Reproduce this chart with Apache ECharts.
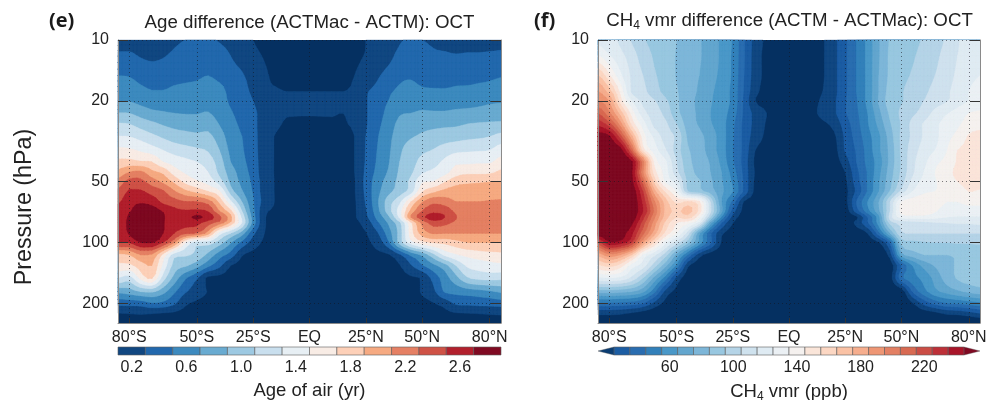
<!DOCTYPE html>
<html><head><meta charset="utf-8">
<style>html,body{margin:0;padding:0;background:#fff}#c{width:986px;height:400px}</style>
<script src="https://cdn.jsdelivr.net/npm/echarts@6/dist/echarts.min.js"></script>
</head><body><div id="c"></div>
<script>
const latitudes=[-85,-80,-75,-70,-65,-60,-55,-50,-45,-40,-35,-30,-25,-20,-15,-10,0,10,15,20,25,30,35,40,45,50,55,60,65,70,75,80,85];
const pressures=[10,12,15,18,20,23,26,30,35,40,45,50,56,63,70,75,80,90,100,115,130,150,175,200,225,250];
const latTicks=[-80,-50,-25,0,25,50,80];
const pressureTicks=[10,20,50,100,200];
const ageValues=[
[.25,.25,.25,.25,.26,.28,.3,.31,.33,.28,.22,.16,.1,.07,.05,.04,.03,.03,.04,.06,.1,.15,.2,.28,.33,.3,.28,.27,.26,.25,.25,.25,.25],
[.33,.33,.29,.27,.29,.33,.38,.42,.46,.42,.3,.22,.14,.09,.06,.05,.04,.04,.05,.07,.11,.17,.24,.36,.42,.38,.33,.32,.31,.32,.32,.33,.34],
[.5,.49,.43,.4,.4,.43,.45,.47,.5,.45,.38,.32,.22,.12,.08,.05,.04,.05,.07,.1,.18,.27,.37,.46,.48,.44,.43,.42,.44,.45,.46,.47,.49],
[.62,.61,.55,.51,.51,.54,.56,.57,.6,.57,.44,.36,.26,.11,.11,.1,.1,.1,.1,.13,.28,.35,.47,.53,.56,.53,.52,.52,.53,.53,.54,.55,.57],
[.69,.69,.64,.6,.6,.6,.62,.62,.64,.58,.47,.4,.3,.17,.14,.13,.14,.14,.14,.18,.28,.42,.5,.58,.63,.65,.62,.62,.62,.63,.65,.67,.68],
[.91,.9,.82,.75,.72,.7,.69,.69,.71,.62,.52,.43,.35,.2,.14,.11,.11,.11,.1,.15,.28,.42,.55,.68,.7,.72,.72,.72,.74,.75,.76,.78,.8],
[1.12,1.1,1.02,.95,.88,.84,.82,.8,.83,.69,.56,.46,.35,.2,.13,.08,.07,.08,.09,.13,.28,.44,.6,.75,.81,.84,.85,.86,.87,.9,.92,.93,.94],
[1.31,1.3,1.23,1.15,1.07,1,.97,.95,.95,.8,.6,.5,.37,.18,.09,.05,.04,.05,.07,.1,.3,.48,.64,.8,.88,.93,.97,1,1.02,1.05,1.07,1.1,1.17],
[1.55,1.53,1.47,1.39,1.3,1.22,1.17,1.13,1.08,.9,.65,.52,.38,.18,.09,.05,.03,.04,.05,.1,.31,.5,.66,.86,1,1.06,1.11,1.19,1.25,1.27,1.28,1.3,1.4],
[1.75,1.76,1.72,1.7,1.5,1.41,1.35,1.3,1.2,1,.7,.55,.4,.18,.09,.05,.03,.03,.05,.1,.32,.52,.68,.9,1.02,1.16,1.23,1.34,1.45,1.45,1.47,1.47,1.58],
[1.95,2.1,2.15,1.95,1.85,1.6,1.47,1.41,1.3,1.05,.8,.6,.42,.18,.09,.05,.03,.03,.05,.1,.34,.55,.72,.93,1.06,1.27,1.34,1.42,1.6,1.65,1.65,1.66,1.74],
[2.17,2.37,2.35,2.2,2.05,1.85,1.63,1.52,1.42,1.2,.85,.65,.45,.2,.09,.05,.03,.03,.05,.09,.36,.6,.78,.96,1.15,1.47,1.5,1.68,1.82,1.86,1.87,1.89,1.9],
[2.34,2.53,2.53,2.42,2.33,2.12,1.95,1.83,1.7,1.53,1,.72,.48,.2,.09,.05,.03,.03,.05,.09,.35,.63,.84,1,1.2,1.68,1.85,1.96,2,2,2.02,2.03,2.02],
[2.47,2.63,2.68,2.62,2.45,2.38,2.31,2.3,2.2,1.85,1.35,.9,.52,.22,.09,.05,.03,.03,.05,.08,.32,.66,1,1.25,1.7,2.08,2.25,2.2,2.1,2.1,2.1,2.11,2.12],
[2.55,2.68,2.78,2.8,2.68,2.55,2.52,2.53,2.48,2.1,1.75,1.1,.55,.15,.08,.05,.03,.03,.05,.08,.28,.62,1,1.4,1.95,2.3,2.42,2.42,2.25,2.18,2.17,2.17,2.18],
[2.55,2.73,2.85,2.85,2.72,2.6,2.63,2.74,2.62,2.35,1.95,1.25,.6,.12,.07,.05,.03,.03,.04,.08,.25,.55,.85,1.35,2.1,2.42,2.62,2.5,2.31,2.2,2.18,2.18,2.18],
[2.55,2.75,2.87,2.9,2.72,2.55,2.55,2.55,2.38,2.2,1.85,1.3,.62,.12,.07,.05,.03,.03,.04,.06,.17,.45,.72,1.05,1.65,2.15,2.38,2.35,2.25,2.15,2.14,2.14,2.14],
[2.55,2.72,2.85,2.85,2.7,2.5,2.35,2.28,2,1.4,1.1,.8,.35,.1,.06,.04,.03,.03,.04,.06,.09,.27,.6,.98,1.6,1.98,2.12,2.1,2.1,2.1,2.1,2.1,2.1],
[2.5,2.52,2.7,2.72,2.5,2.12,1.5,1.2,1.2,1,.72,.45,.2,.07,.05,.04,.03,.03,.04,.05,.07,.17,.46,.99,1.4,1.62,1.72,1.75,1.82,1.9,1.9,1.9,1.9],
[1.85,1.9,2.1,2.08,1.65,1.2,1.13,1.05,.85,.6,.42,.12,.05,.04,.03,.03,.03,.03,.03,.04,.05,.06,.08,.27,.55,.75,1.05,1.35,1.48,1.55,1.6,1.63,1.65],
[1.65,1.65,1.8,1.9,1.45,1.02,.93,.78,.55,.35,.1,.05,.03,.03,.03,.03,.03,.03,.03,.03,.03,.04,.05,.09,.28,.48,.65,.82,1.1,1.33,1.38,1.42,1.45],
[1.3,1.2,1.55,1.72,1.2,.82,.52,.32,.05,.04,.03,.03,.03,.03,.03,.03,.03,.03,.03,.03,.03,.03,.04,.05,.07,.12,.37,.6,.83,1.07,1.15,1.17,1.15],
[.75,.8,.9,.93,.77,.53,.32,.2,.09,.04,.03,.03,.03,.03,.03,.03,.03,.03,.03,.03,.03,.03,.03,.03,.03,.12,.25,.52,.56,.6,.63,.67,.73],
[.37,.38,.4,.48,.45,.33,.13,.07,.04,.03,.03,.03,.03,.03,.03,.03,.03,.03,.03,.03,.03,.03,.03,.03,.03,.05,.09,.17,.33,.35,.37,.38,.4],
[.09,.1,.11,.1,.08,.06,.04,.04,.03,.03,.03,.03,.03,.03,.03,.03,.03,.03,.03,.03,.03,.03,.03,.03,.03,.03,.04,.06,.08,.09,.1,.11,.12],
[.04,.04,.04,.04,.04,.03,.03,.03,.03,.03,.03,.03,.03,.03,.03,.03,.03,.03,.03,.03,.03,.03,.03,.03,.03,.03,.03,.03,.03,.04,.04,.04,.04]
];
const ch4Values=[
[122,118,113,104,96,93,90,85,80,76,70,63,54,36,21,13,8,10,14,22,33,45,58,74,86,90,93,96,102,106,114,118,120],
[136,126,118,110,100,94,91,84,78,76,70,63,53,36,20,12,7,9,14,22,33,45,58,74,87,91,94,98,103,108,115,119,122],
[166,147,127,113,105,96,92,84,78,75,69,62,53,35,20,12,6,9,14,22,33,45,58,75,87,92,96,100,105,110,117,122,125],
[186,170,142,113,108,99,92,86,78,74,67,60,52,34,18,11,6,10,15,22,33,45,58,75,89,94,99,103,108,113,119,125,128],
[195,185,150,125,112,106,97,87,78,73,66,60,52,33,15,11,7,11,17,23,34,44,58,76,90,94,100,105,110,114,120,125,128],
[215,197,171,141,119,110,102,88,79,73,65,59,50,33,22,15,9,12,18,23,34,43,55,72,87,97,103,109,118,124,129,135,137],
[232,219,190,152,130,112,107,95,80,74,66,59,47,32,22,14,8,10,13,18,30,41,54,68,84,96,108,116,123,128,133,139,142],
[250,247,220,178,140,123,110,103,83,78,70,60,46,32,20,13,8,9,10,13,27,39,51,63,80,97,107,116,122,131,138,146,148],
[252,252,250,210,150,130,116,100,86,80,70,60,45,32,15,12,7,8,9,11,26,36,49,63,78,97,110,119,125,134,145,147,150],
[253,254,254,247,200,142,127,105,88,81,74,62,46,31,13,10,7,7,8,10,20,35,48,60,78,96,112,122,132,138,146,150,152],
[253,254,254,246,195,150,130,108,90,82,75,65,50,32,14,10,6,7,8,9,15,32,46,62,80,97,113,125,135,142,147,152,152],
[253,254,254,248,210,162,133,120,92,86,77,66,53,33,13,10,6,6,7,8,13,30,46,64,82,100,118,128,134,140,145,148,148],
[253,254,254,252,225,180,153,133,95,88,80,67,55,33,12,9,6,6,6,7,12,27,46,65,86,108,125,133,135,137,140,145,144],
[253,254,254,254,232,197,170,152,156,147,105,65,42,14,11,9,6,6,6,7,11,35,55,75,105,135,140,142,140,135,135,138,138],
[253,254,254,253,235,203,172,163,168,152,108,68,30,12,10,8,6,6,6,7,9,30,51,73,105,139,142,143,136,130,130,130,130],
[253,254,254,252,228,197,170,155,160,137,95,53,21,11,9,8,6,6,6,6,8,13,35,62,110,128,130,130,128,125,124,124,124],
[253,254,254,247,220,190,162,145,137,120,70,35,15,10,9,7,6,6,6,6,7,18,34,60,98,108,110,112,114,115,116,116,117],
[252,253,250,237,208,180,152,135,110,68,37,17,10,8,7,6,5,5,5,6,6,8,15,42,75,104,105,105,105,105,105,105,105],
[220,244,240,225,185,155,128,110,88,62,38,14,9,7,6,6,5,5,5,5,6,7,9,14,38,88,92,94,95,95,96,96,97],
[178,192,185,165,133,118,100,72,45,20,10,8,7,6,6,6,5,5,5,5,5,6,6,7,20,70,80,85,85,85,86,87,87],
[153,158,150,130,120,100,78,53,17,10,7,6,6,6,5,5,5,5,5,5,5,5,5,6,9,35,55,68,76,82,86,88,89],
[123,124,122,112,95,72,50,22,9,7,6,5,5,5,5,5,5,5,5,5,5,5,5,5,10,42,51,58,68,79,86,89,90],
[80,80,78,75,67,48,22,12,8,6,5,5,5,5,5,5,5,5,5,5,5,5,5,5,5,8,36,51,62,68,73,77,80],
[43,43,42,40,35,22,12,8,6,5,5,5,5,5,5,5,5,5,5,5,5,5,5,5,5,5,14,28,38,44,46,49,52],
[17,17,16,13,10,8,6,5,5,5,5,5,5,5,5,5,5,5,5,5,5,5,5,5,5,5,7,9,11,16,17,20,24],
[6,6,6,6,6,5,5,5,5,5,5,5,5,5,5,5,5,5,5,5,5,5,5,5,5,5,5,5,5,5,6,6,6]
];
const ageBarCentres=[0.2,0.4,0.6,0.8,1.0,1.2,1.4,1.6,1.8,2.0,2.2,2.4,2.6,2.8];
const ageBarTicks=[0.2,0.6,1.0,1.4,1.8,2.2,2.6];
const ch4BarCentres=[30,40,50,60,70,80,90,100,110,120,130,140,150,160,170,180,190,200,210,220,230,240];
const ch4BarTicks=[60,100,140,180,220];
const UNDER='#053061';
const ageColors=['#114781','#2268ad','#3d8abf','#69abd1','#9dc9e2','#c9dfee','#e7eff4','#f8ece5','#fdd0b8','#f6aa82','#e58064','#cf5246','#b2202d','#7f0a22'];
const ch4Colors=['#1c5da3','#2a6db0','#3280ba','#4a98c8','#63a6ce','#7db6d8','#98c7e0','#b5d4e7','#cfe2ee','#dfebf3','#ebf0f4','#f5f1ef','#fae5d9','#fcd7c3','#fac2a5','#f6ae8e','#ee9674','#e38064','#d86a52','#cb4d45','#bd3038','#a81529'];
const FONT='"Liberation Sans",Arial,sans-serif';
const TXT='#222';
const log10=p=>Math.log10(p);
function flat(m){const o=[];m.forEach((r,j)=>r.forEach((v,i)=>o.push([latitudes[i],log10(pressures[j]),v])));return o;}
function clip(tri,T){const out=[];for(let i=0;i<3;i++){const a=tri[i],b=tri[(i+1)%3];const ai=a[2]>=T,bi=b[2]>=T;if(ai)out.push(a);if(ai!==bi){const t=(T-a[2])/(b[2]-a[2]);out.push([a[0]+t*(b[0]-a[0]),a[1]+t*(b[1]-a[1]),T]);}}return out;}
// Contour drawing step: refines the read grid with a clamped Catmull-Rom so bands come out smooth, as a contouring package does.
function cr(p0,p1,p2,p3,t){const v=0.5*((2*p1)+(-p0+p2)*t+(2*p0-5*p1+4*p2-p3)*t*t+(-p0+3*p1-3*p2+p3)*t*t*t);return Math.min(Math.max(p1,p2),Math.max(Math.min(p1,p2),v));}
function refineLine(a,f,linear){const o=[];const n=a.length;for(let i=0;i<n-1;i++)for(let k=0;k<f;k++){const t=k/f;
  o.push(linear?a[i]+(a[i+1]-a[i])*t:cr(a[Math.max(i-1,0)],a[i],a[i+1],a[Math.min(i+2,n-1)],t));}o.push(a[n-1]);return o;}
function contourChildren(matrix,thresholds,colors,api,cs){
  const F=3;
  const xs=refineLine(latitudes.map(la=>api.coord([la,1])[0]),F,true);
  const ys=refineLine(pressures.map(p=>api.coord([0,log10(p)])[1]),F,true);
  const rows=matrix.map(r=>refineLine(r,F,false));
  const cols=[];for(let i=0;i<xs.length;i++)cols.push(refineLine(rows.map(r=>r[i]),F,false));
  const tris=[];
  const P=(i,j)=>[xs[i],ys[j],cols[i][j]];
  for(let j=0;j<ys.length-1;j++)for(let i=0;i<xs.length-1;i++){
    const a=P(i,j),b=P(i+1,j),c=P(i+1,j+1),d=P(i,j+1);
    const m=[(a[0]+c[0])/2,(a[1]+c[1])/2,(a[2]+b[2]+c[2]+d[2])/4];
    tris.push([a,b,m],[b,c,m],[c,d,m],[d,a,m]);
  }
  const kids=[{type:'rect',shape:{x:cs.x,y:cs.y,width:cs.width,height:cs.height},style:{fill:UNDER}}];
  thresholds.forEach((T,k)=>{
    const parts=[];let x0=1e9,y0=1e9,x1=-1e9,y1=-1e9;
    tris.forEach(t=>{if(t[0][2]<T&&t[1][2]<T&&t[2][2]<T)return;const poly=clip(t,T);if(poly.length<3)return;
      poly.forEach((q,n)=>{const x=+q[0].toFixed(2),y=+q[1].toFixed(2);parts.push((n?'L':'M')+x+' '+y);if(x<x0)x0=x;if(y<y0)y0=y;if(x>x1)x1=x;if(y>y1)y1=y;});parts.push('Z');});
    if(parts.length)kids.push({type:'path',shape:{pathData:parts.join(' '),layout:'cover',x:x0,y:y0,width:x1-x0,height:y1-y0},style:{fill:colors[k],stroke:colors[k],lineWidth:0.3}});
  });
  return kids;
}
function panelSeries(idx,name,matrix,thresholds,colors){
  return {type:'custom',name,xAxisIndex:idx,yAxisIndex:idx,coordinateSystem:'cartesian2d',silent:true,z:2,animation:false,
    data:flat(matrix),encode:{x:0,y:1},
    renderItem(params,api){ if(params.dataIndex!==0)return null;
      return {type:'group',children:contourChildren(matrix,thresholds,colors,api,params.coordSys)}; }};
}
function barSeries(idx,name,centres,half,colors,over){
  return {type:'custom',name,xAxisIndex:idx,yAxisIndex:idx,silent:true,animation:false,data:centres.map(c=>[c]),encode:{x:0},
    renderItem(params,api){const i=params.dataIndex,c=api.value(0),cs=params.coordSys;
      const a=api.coord([c-half,0]),b=api.coord([c+half,1]);
      const kids=[{type:'rect',shape:{x:a[0],y:b[1],width:b[0]-a[0],height:a[1]-b[1]},style:{fill:colors[i],stroke:'#5a5a5a',lineWidth:0.6}}];
      if(over&&i===0)kids.push({type:'polygon',shape:{points:[[a[0],b[1]],[a[0],a[1]],[cs.x,(a[1]+b[1])/2]]},style:{fill:'#0b3d72',stroke:'#5a5a5a',lineWidth:0.4}});
      if(over&&i===centres.length-1)kids.push({type:'polygon',shape:{points:[[b[0],b[1]],[b[0],a[1]],[cs.x+cs.width,(a[1]+b[1])/2]]},style:{fill:over,stroke:'#5a5a5a',lineWidth:0.4}});
      return {type:'group',children:kids};}};
}
const grids=[
 {left:118,top:40,width:383,height:283,outerBoundsMode:'none'},
 {left:598,top:40,width:382,height:283,outerBoundsMode:'none'},
 {left:118,top:347,width:383,height:8,outerBoundsMode:'none'},
 {left:598,top:347,width:382,height:8,outerBoundsMode:'none'}];
const latFmt=v=>v===0?'EQ':Math.abs(v)+'°'+(v<0?'S':'N');
const gridLine={show:true,lineStyle:{color:'rgba(20,20,30,0.55)',width:1,type:[1,3]}};
const mainX=i=>({type:'value',gridIndex:i,min:-85,max:85,z:5,
  axisLine:{show:true,onZero:false,lineStyle:{color:'#8a8a8a',width:1}},
  axisTick:{show:true,inside:true,length:5,lineStyle:{color:'#333'},customValues:latTicks},
  axisLabel:{show:true,customValues:latTicks,formatter:latFmt,margin:7,fontSize:16,fontFamily:FONT,color:TXT,hideOverlap:false},
  splitLine:gridLine});
const logTicks=pressureTicks.map(log10);
const mainY=(i,pos,lab)=>({type:'value',gridIndex:i,position:pos,inverse:true,min:1,max:log10(250),z:5,
  axisLine:{show:true,onZero:false,lineStyle:{color:'#8a8a8a',width:1}},
  axisTick:{show:true,inside:true,length:10,lineStyle:{color:'#333',width:1},customValues:logTicks},
  axisLabel:{show:lab,customValues:logTicks,formatter:v=>String(Math.round(Math.pow(10,v))),margin:9,fontSize:16,fontFamily:FONT,color:TXT},
  splitLine:lab?gridLine:{show:false}});
const barX=(i,min,max,ticks,fmt,name,rich)=>({type:'value',gridIndex:i,min,max,
  axisLine:{show:false},axisTick:{show:false},splitLine:{show:false},
  axisLabel:{show:true,customValues:ticks,formatter:fmt,margin:5,fontSize:16,fontFamily:FONT,color:TXT},
  name,nameLocation:'middle',nameGap:26,nameTextStyle:{fontSize:18.5,fontFamily:FONT,color:TXT,rich}});
const barY=i=>({type:'value',gridIndex:i,min:0,max:1,show:false});
const SUB={sub:{fontSize:12,fontFamily:FONT,color:TXT,padding:[10,0,0,0]}};
const option={animation:false,backgroundColor:'#fff',tooltip:{show:false},grid:grids,
 xAxis:[mainX(0),mainX(1),
   barX(2,0.1,2.9,ageBarTicks,v=>v.toFixed(1),'Age of air (yr)'),
   barX(3,15,255,ch4BarTicks,v=>String(v),'CH{sub|4} vmr (ppb)',SUB)],
 yAxis:[mainY(0,'left',true),mainY(1,'left',true),barY(2),barY(3),mainY(0,'right',false),mainY(1,'right',false)],
 title:[
  {text:'Age difference (ACTMac - ACTM): OCT',left:309.5,top:13,padding:0,textAlign:'center',textStyle:{fontSize:18.7,fontWeight:'normal',fontFamily:FONT,color:TXT}},
  {text:'CH{sub|4} vmr difference (ACTM - ACTMac): OCT',left:789.5,top:10,padding:0,textAlign:'center',textStyle:{fontSize:18.7,fontWeight:'normal',fontFamily:FONT,color:TXT,rich:{sub:{fontSize:12,fontFamily:FONT,color:TXT,padding:[10,0,0,0]}}}},
  {text:'(e)',left:49,top:11,padding:0,textStyle:{fontSize:20,fontWeight:'bold',fontFamily:'"Open Sans",sans-serif',color:'#1a1a1a'}},
  {text:'(f)',left:534,top:11,padding:0,textStyle:{fontSize:20,fontWeight:'bold',fontFamily:'"Open Sans",sans-serif',color:'#1a1a1a'}}],
 graphic:[{type:'text',x:25,y:207,rotation:Math.PI/2,style:{text:'Pressure (hPa)',x:0,y:0,align:'center',verticalAlign:'middle',fontSize:23.3,fontFamily:FONT,fill:TXT}}],
 series:[
  panelSeries(0,'Age difference',ageValues,[.1,.3,.5,.7,.9,1.1,1.3,1.5,1.7,1.9,2.1,2.3,2.5,2.7],ageColors),
  panelSeries(1,'CH4 vmr difference',ch4Values,[15,25,35,45,55,65,75,85,95,105,115,125,135,145,155,165,175,185,195,205,215,225,235,245],['#114781'].concat(ch4Colors,['#7f0a22'])),
  barSeries(2,'Age colour bar',ageBarCentres,0.1,ageColors,null),
  barSeries(3,'CH4 colour bar',ch4BarCentres,5,ch4Colors,'#7f0a22')
 ]};
const chart=echarts.init(document.getElementById('c'),null,{renderer:'canvas'});
chart.setOption(option);
</script></body></html>
